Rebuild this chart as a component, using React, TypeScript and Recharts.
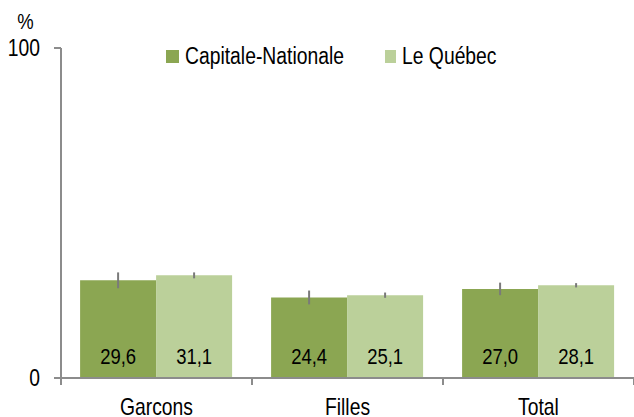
import { BarChart, Bar, XAxis, YAxis, ErrorBar, LabelList } from 'recharts'

const categories = ['Garcons', 'Filles', 'Total']
const seriesNames = ['Capitale-Nationale', 'Le Québec']
const capitale = [29.6, 24.4, 27.0]
const quebec = [31.1, 25.1, 28.1]
const capitaleErr = [2.4, 2.1, 1.9]
const quebecErr = [0.9, 0.8, 0.65]
const yTicks = [0, 100]

const DARK = '#8ba652'
const LIGHT = '#bbd09a'
const AXIS = '#8c8c8c'
const ERR = '#7a7a7a'
const FONT = '"Liberation Sans", Arial, sans-serif'
const SQUEEZE = 0.84 // narrow look of the original font

const W = 634
const H = 417
const Y_AXIS_W = 61
const BAND = (W - Y_AXIS_W) / categories.length

const data = categories.map((cat, i) => ({
  cat,
  capitale: capitale[i],
  quebec: quebec[i],
  capitaleErr: capitaleErr[i],
  quebecErr: quebecErr[i],
}))

const fmt = (v: any) => Number(v).toFixed(1).replace('.', ',')

function NarrowText({ x, y, anchor, size, children }: any) {
  return (
    <text
      transform={`translate(${x},${y}) scale(${SQUEEZE},1)`}
      textAnchor={anchor}
      fill="#000"
      fontSize={size}
      fontFamily={FONT}
    >
      {children}
    </text>
  )
}

// category label + boundary tick marks between the groups
function CatTick(props: any) {
  const { x, y, payload, index } = props
  const left = x - BAND / 2
  const right = x + BAND / 2
  return (
    <g>
      <line x1={left} y1={y - 7} x2={left} y2={y} stroke={AXIS} strokeWidth={2} />
      {index === categories.length - 1 && (
        <line x1={right} y1={y - 7} x2={right} y2={y} stroke={AXIS} strokeWidth={2} />
      )}
      <NarrowText x={x} y={y + 30} anchor="middle" size={23}>{payload.value}</NarrowText>
    </g>
  )
}

function ValueTick(props: any) {
  const { x, y, payload } = props
  return <NarrowText x={x} y={y + 8} anchor="end" size={23}>{payload.value}</NarrowText>
}

function BarValue(props: any) {
  const { x, y, width, height, value } = props
  return <NarrowText x={x + width / 2} y={y + height - 14} anchor="middle" size={22}>{fmt(value)}</NarrowText>
}

function LegendBox() {
  const colors = [DARK, LIGHT]
  return (
    <div
      style={{
        position: 'absolute', top: 43, left: 166, height: 26, display: 'flex',
        alignItems: 'center', fontFamily: FONT, fontSize: 23, color: '#000',
      }}
    >
      {seriesNames.map((name, i) => (
        <div key={name} style={{ display: 'flex', alignItems: 'center', width: i === 0 ? 219 : 130 }}>
          <span style={{ display: 'inline-block', width: 13, height: 13, background: colors[i], marginRight: 6 }} />
          <span style={{ display: 'inline-block', transform: `scaleX(${SQUEEZE})`, transformOrigin: 'left center', whiteSpace: 'nowrap', lineHeight: '26px' }}>
            {name}
          </span>
        </div>
      ))}
    </div>
  )
}

export default function App() {
  return (
    <div style={{ position: 'absolute', left: 0, top: 0, width: W, height: H, background: '#fff' }}>
      <BarChart
        width={W}
        height={H}
        data={data}
        margin={{ top: 48, right: 0, bottom: 9, left: 0 }}
        barCategoryGap="10%"
        barGap={0}
      >
        <XAxis
          dataKey="cat"
          height={30}
          axisLine={{ stroke: AXIS, strokeWidth: 2 }}
          tickLine={false}
          tickSize={7}
          tickMargin={0}
          tick={<CatTick />}
          interval={0}
        />
        <YAxis
          width={Y_AXIS_W}
          domain={[0, 100]}
          ticks={yTicks}
          axisLine={{ stroke: AXIS, strokeWidth: 2 }}
          tickLine={{ stroke: AXIS, strokeWidth: 2 }}
          tickSize={7}
          tickMargin={14}
          tick={<ValueTick />}
          label={{
            content: () => <NarrowText x={25.5} y={29} anchor="middle" size={22}>%</NarrowText>,
          }}
        />
        <Bar dataKey="capitale" name={seriesNames[0]} fill={DARK} isAnimationActive={false}>
          <ErrorBar dataKey="capitaleErr" width={0} stroke={ERR} strokeWidth={2} />
          <LabelList dataKey="capitale" content={<BarValue />} />
        </Bar>
        <Bar dataKey="quebec" name={seriesNames[1]} fill={LIGHT} isAnimationActive={false}>
          <ErrorBar dataKey="quebecErr" width={0} stroke={ERR} strokeWidth={2} />
          <LabelList dataKey="quebec" content={<BarValue />} />
        </Bar>
      </BarChart>
      <LegendBox />
    </div>
  )
}
